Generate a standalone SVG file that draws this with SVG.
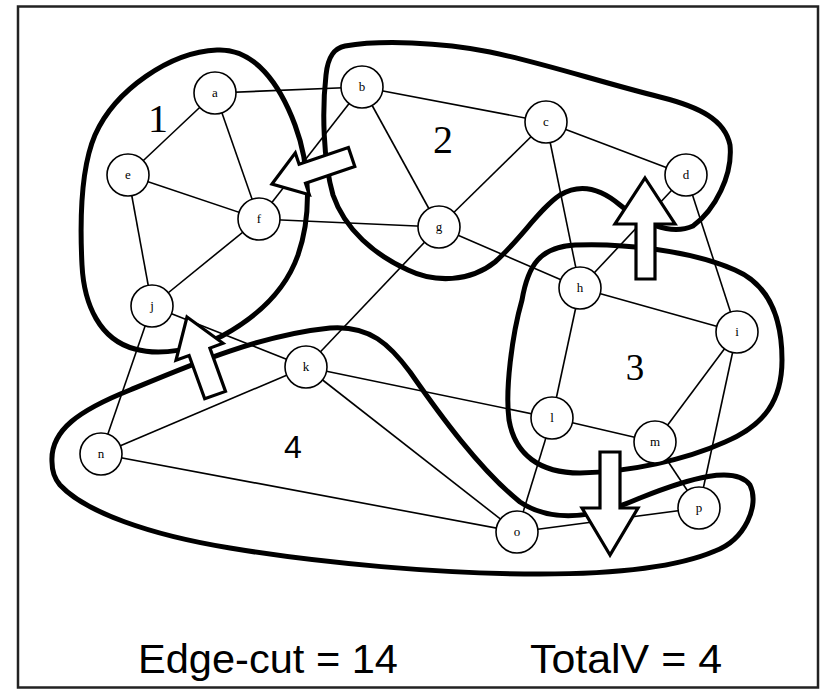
<svg xmlns="http://www.w3.org/2000/svg" width="827" height="690" viewBox="0 0 827 690">
<style>
.edge{stroke:#000;stroke-width:1.6;fill:none}
.region{stroke:#000;stroke-width:5;fill:none;stroke-linejoin:round}
.node circle{fill:#fff;stroke:#000;stroke-width:1.6}
.node text{font-family:"Liberation Serif",serif;font-size:13px;text-anchor:middle;fill:#000}
.arrow{fill:#fff;stroke:#000;stroke-width:3.2;stroke-linejoin:miter}
.rlabel{font-family:"Liberation Serif",serif;font-size:40px;text-anchor:middle;fill:#000}
.caption{font-family:"Liberation Sans",Arial,sans-serif;font-size:41px;fill:#000}
</style>
<rect x="0" y="0" width="827" height="690" fill="#fff"/>
<rect x="18" y="6.5" width="800" height="681" fill="none" stroke="#222" stroke-width="2.5"/>
<g id="connectors">
<line class="edge" x1="215" y1="93" x2="362" y2="87"/>
<line class="edge" x1="215" y1="93" x2="128" y2="175"/>
<line class="edge" x1="215" y1="93" x2="259" y2="219"/>
<line class="edge" x1="128" y1="175" x2="259" y2="219"/>
<line class="edge" x1="128" y1="175" x2="152" y2="306"/>
<line class="edge" x1="259" y1="219" x2="152" y2="306"/>
<line class="edge" x1="259" y1="219" x2="439" y2="227"/>
<line class="edge" x1="362" y1="87" x2="259" y2="219"/>
<line class="edge" x1="362" y1="87" x2="439" y2="227"/>
<line class="edge" x1="362" y1="87" x2="546" y2="122"/>
<line class="edge" x1="546" y1="122" x2="686" y2="175"/>
<line class="edge" x1="546" y1="122" x2="439" y2="227"/>
<line class="edge" x1="546" y1="122" x2="580" y2="288"/>
<line class="edge" x1="439" y1="227" x2="580" y2="288"/>
<line class="edge" x1="439" y1="227" x2="306" y2="367"/>
<line class="edge" x1="686" y1="175" x2="580" y2="288"/>
<line class="edge" x1="686" y1="175" x2="737" y2="332"/>
<line class="edge" x1="580" y1="288" x2="737" y2="332"/>
<line class="edge" x1="580" y1="288" x2="552" y2="418"/>
<line class="edge" x1="737" y1="332" x2="655" y2="442"/>
<line class="edge" x1="737" y1="332" x2="699" y2="508"/>
<line class="edge" x1="552" y1="418" x2="655" y2="442"/>
<line class="edge" x1="552" y1="418" x2="517" y2="532"/>
<line class="edge" x1="655" y1="442" x2="699" y2="508"/>
<line class="edge" x1="306" y1="367" x2="552" y2="418"/>
<line class="edge" x1="306" y1="367" x2="517" y2="532"/>
<line class="edge" x1="306" y1="367" x2="152" y2="306"/>
<line class="edge" x1="306" y1="367" x2="101" y2="454"/>
<line class="edge" x1="152" y1="306" x2="101" y2="454"/>
<line class="edge" x1="101" y1="454" x2="517" y2="532"/>
<line class="edge" x1="517" y1="532" x2="699" y2="508"/>
</g>
<g id="regions">
<path id="region1" class="region" d="M 217,50 C 255,48 280,85 295,125 C 310,165 312,215 298,255 C 285,292 255,318 222,336 C 195,350 160,356 135,349 C 100,340 84,305 82,265 C 80,225 80,170 95,135 C 115,90 170,52 217,50 Z"/>
<path id="region2" class="region" d="M 345,46 C 380,40 440,42 490,52 C 540,62 600,82 660,97 C 700,107 725,120 730,145 C 733,175 715,210 693,226 C 670,236 640,222 620,205 C 600,188 580,183 560,195 C 540,208 520,240 495,262 C 470,282 435,283 408,270 C 375,255 345,230 333,195 C 323,160 322,110 326,75 C 328,55 335,48 345,46 Z"/>
<path id="region3" class="region" d="M 522,300 C 528,265 540,247 575,245 C 620,243 690,250 735,270 C 770,285 782,320 782,360 C 782,400 765,425 725,442 C 685,460 630,472 580,473 C 540,473 515,455 509,420 C 505,390 512,335 522,300 Z"/>
<path id="region4" class="region" d="M 52,462 C 50,430 80,410 130,390 C 190,365 260,335 330,328 C 370,325 390,345 410,372 C 440,415 480,470 520,502 C 550,522 590,520 640,498 C 690,478 735,465 750,485 C 760,505 745,540 715,551 C 680,566 620,574 540,574 C 440,574 320,563 230,548 C 150,535 85,512 60,485 C 54,478 52,470 52,462 Z"/>
</g>
<g id="node-a" class="node"><circle cx="215" cy="93" r="21"/><text x="215" y="97">a</text></g>
<g id="node-b" class="node"><circle cx="362" cy="87" r="21"/><text x="362" y="91">b</text></g>
<g id="node-c" class="node"><circle cx="546" cy="122" r="21"/><text x="546" y="126">c</text></g>
<g id="node-d" class="node"><circle cx="686" cy="175" r="21"/><text x="686" y="179">d</text></g>
<g id="node-e" class="node"><circle cx="128" cy="175" r="21"/><text x="128" y="179">e</text></g>
<g id="node-f" class="node"><circle cx="259" cy="219" r="21"/><text x="259" y="223">f</text></g>
<g id="node-g" class="node"><circle cx="439" cy="227" r="21"/><text x="439" y="231">g</text></g>
<g id="node-h" class="node"><circle cx="580" cy="288" r="21"/><text x="580" y="292">h</text></g>
<g id="node-i" class="node"><circle cx="737" cy="332" r="21"/><text x="737" y="336">i</text></g>
<g id="node-j" class="node"><circle cx="152" cy="306" r="21"/><text x="152" y="310">j</text></g>
<g id="node-k" class="node"><circle cx="306" cy="367" r="21"/><text x="306" y="371">k</text></g>
<g id="node-l" class="node"><circle cx="552" cy="418" r="21"/><text x="552" y="422">l</text></g>
<g id="node-m" class="node"><circle cx="655" cy="442" r="21"/><text x="655" y="446">m</text></g>
<g id="node-n" class="node"><circle cx="101" cy="454" r="21"/><text x="101" y="458">n</text></g>
<g id="node-o" class="node"><circle cx="517" cy="532" r="21"/><text x="517" y="536">o</text></g>
<g id="node-p" class="node"><circle cx="699" cy="508" r="21"/><text x="699" y="512">p</text></g>
<g id="arrows">
<polygon class="arrow" points="272,184 295.3,152.9 299.1,164.3 348.4,147.6 354.8,166.6 305.5,183.3 309.3,194.7"/>
<polygon class="arrow" points="187,317 223,343.3 209.9,348.1 225.5,391.4 204.7,398.8 189.1,355.5 176,360.3"/>
<polygon class="arrow" points="645,178 675,224 655,224 655,279 636,279 636,224 615,224"/>
<polygon class="arrow" points="610,555 582,508 600,508 600,452 620,452 620,508 638,508"/>
</g>
<g id="region-labels">
<text class="rlabel" x="158" y="132">1</text>
<text class="rlabel" x="443" y="153">2</text>
<text class="rlabel" x="635" y="380" style="font-size:37px">3</text>
<text class="rlabel" x="293" y="458" style="font-family:'Liberation Sans',Arial,sans-serif;font-size:32px">4</text>
</g>
<text class="caption" x="138" y="673" textLength="260" lengthAdjust="spacingAndGlyphs">Edge-cut = 14</text>
<text class="caption" x="530" y="673" textLength="192" lengthAdjust="spacingAndGlyphs">TotalV = 4</text>
</svg>
